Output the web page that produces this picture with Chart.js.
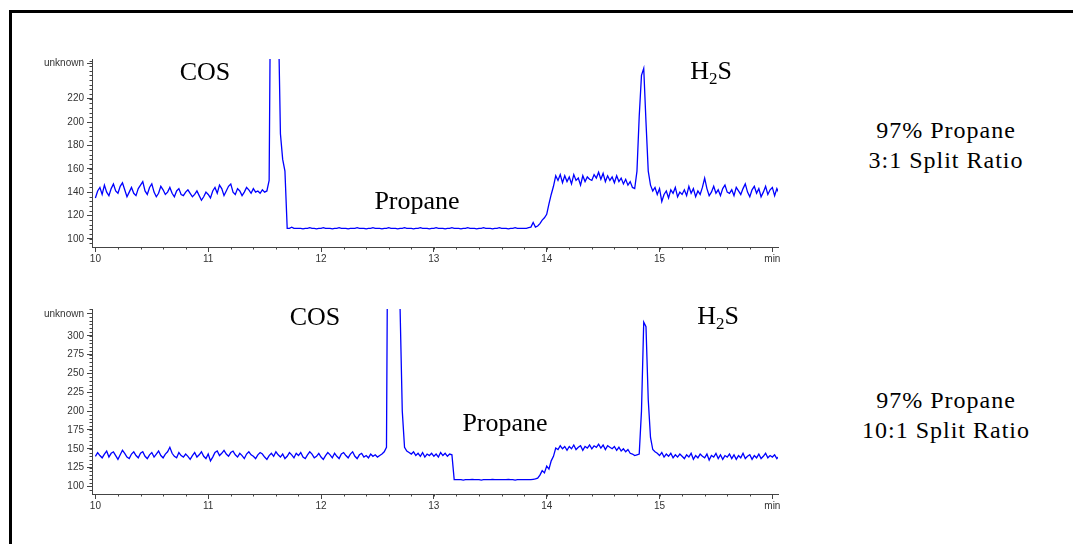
<!DOCTYPE html>
<html>
<head>
<meta charset="utf-8">
<script src="https://cdn.jsdelivr.net/npm/chart.js@4.4.1/dist/chart.umd.min.js"></script>
<style>
    html, body { margin: 0; padding: 0; background: #fff; }
    body { width: 1073px; height: 544px; position: relative; overflow: hidden; }
    .frame {
        position: absolute; left: 9px; top: 10px; right: -10px; bottom: -10px;
        border-left: 3px solid #000; border-top: 3px solid #000;
    }
    canvas { position: absolute; left: 0; }
    .lbl {
        position: absolute; transform: translate(-50%, -50%);
        font-family: "Liberation Serif", "Times New Roman", serif;
        font-size: 26px; line-height: 1; color: #000; white-space: nowrap;
    }
    .lbl sub { font-size: 17px; vertical-align: -5px; line-height: 0; }
    .note { font-size: 24px; letter-spacing: 1px; text-align: center; line-height: 30px; }
</style>
</head>
<body>
<div class="frame"></div>
<canvas id="chart3" width="800" height="280" style="top:0"></canvas>
<canvas id="chart10" width="800" height="264" style="top:280px"></canvas>

<div class="lbl" style="left:205px; top:72px">COS</div>
<div class="lbl" style="left:711px; top:71px">H<sub>2</sub>S</div>
<div class="lbl" style="left:417px; top:201px">Propane</div>
<div class="lbl note" style="left:946px; top:145px">97% Propane<br>3:1 Split Ratio</div>

<div class="lbl" style="left:315px; top:317px">COS</div>
<div class="lbl" style="left:718px; top:316px">H<sub>2</sub>S</div>
<div class="lbl" style="left:505px; top:423px">Propane</div>
<div class="lbl note" style="left:946px; top:415px">97% Propane<br>10:1 Split Ratio</div>

<script>
// detector sampled every 0.02 min starting at 10.00 min
const sampleStart = 10.0;
const sampleStep = 0.02;

// 97% propane, 3:1 split
const split3Signal = [
    135,141,144,138,146,140,137,143,147,141,
    139,145,148,142,136,140,144,139,137,143,
    146,149,141,138,144,147,140,136,139,145,
    142,138,140,144,139,136,141,143,138,137,
    140,142,139,136,138,141,137,133,136,140,
    138,135,141,144,139,146,143,137,141,145,
    147,140,138,143,141,137,140,144,142,139,
    143,140,141,139,142,140,141,150,420,520,
    480,300,190,168,158,109,109,110,109,109,
    109,109,108.5,109,109,109.5,109,109,108.5,109,
    109,109.5,109,109,109,108.5,109,109,109.5,109,
    109,109,108.5,109,109,109,109.5,109,109,109,
    108.5,109,109,109.5,109,109,109,108.5,109,109,
    109.5,109,109,109,108.5,109,109,109.5,109,109,
    109,108.5,109,109,109.5,109,109,109,108.5,109,
    109,109.5,109,109,109,108.5,109,109,109.5,109,
    109,109,108.5,109,109,109.5,109,109,109,108.5,
    109,109,109.5,109,109,109,108.5,109,109,109.5,
    109,109,109,108.5,109,109,109.5,109,109,109,
    109,109,109.5,110,114,110,111,113,116,118,
    121,130,138,145,154,150,155,148,154,149,
    153,147,155,150,152,146,154,149,153,151,
    150,155,152,157,151,156,149,154,150,153,
    148,154,149,152,147,151,146,149,144,143,
    158,205,240,246,200,158,146,141,144,138,
    143,132,138,141,135,142,139,144,136,140,
    138,142,137,145,139,143,136,141,138,144,
    152,143,137,140,145,139,142,137,143,146,
    140,139,142,137,144,141,138,143,147,140,
    136,142,145,139,143,136,140,145,138,142,
    144,137,143,139
];

// 97% propane, 10:1 split
const split10Signal = [
    140,145,141,138,143,147,139,144,146,141,
    136,142,148,144,139,137,143,146,141,138,
    144,146,140,137,142,145,139,143,147,141,
    138,143,146,152,144,140,138,145,141,139,
    143,140,136,141,145,139,142,146,140,137,
    143,134,139,145,147,141,144,148,143,140,
    145,147,142,139,144,141,137,143,146,142,
    140,137,142,145,143,139,136,141,144,140,
    146,142,139,143,137,140,145,142,138,144,
    141,145,139,137,142,146,143,138,140,144,
    139,136,141,145,142,138,144,140,137,143,
    145,141,138,143,146,140,137,142,144,139,
    141,138,143,140,142,139,141,143,146,152,
    700,900,900,800,600,340,200,152,147,145,
    143,146,141,144,140,145,139,143,141,144,
    140,143,139,145,141,144,140,143,142,109,
    109,109,109,108.5,109,109,109,109.5,109,109,
    109,108.5,109,109,109,109,109.5,109,109,109,
    109,109,109,109.5,109,109,108.5,109,109,109,
    109,109,109,109,109.5,110,111,115,121,118,
    127,123,134,140,151,149,154,150,153,148,
    153,150,155,149,152,154,148,153,151,155,
    150,154,152,156,151,155,149,154,152,150,
    153,148,152,147,150,146,149,144,143,141,
    142,143,200,318,312,215,165,149,146,144,
    141,145,139,143,140,144,138,142,139,143,
    140,137,142,139,144,136,141,138,143,140,
    138,143,135,141,139,144,137,142,136,141,
    139,143,137,142,136,141,138,144,137,140,
    142,136,141,138,143,137,140,144,138,141,
    139,142,137,140
];

// axes
const timeTicks = [10, 11, 12, 13, 14, 15, 16];
const timeLabels = ['10', '11', '12', '13', '14', '15', 'min'];
const timeMin = 9.97;
const timeMax = 16.05;
const timeMinorStep = 0.2;

const split3YTicks = [100, 120, 140, 160, 180, 200, 220];
const split10YTicks = [100, 125, 150, 175, 200, 225, 250, 275, 300];
const unitLabel = 'unknown';

function rangeOf(from, to, step) {
    const out = [];
    for (let v = from; v <= to + 1e-9; v += step) out.push(+v.toFixed(4));
    return out;
}

const minorTicks = {
    id: 'minorTicks',
    afterDraw(chart, args, opts) {
        const { ctx, scales: { x, y } } = chart;
        ctx.save();
        ctx.strokeStyle = '#444';
        ctx.lineWidth = 1;
        ctx.beginPath();
        opts.xValues.forEach(v => {
            const px = Math.round(x.getPixelForValue(v)) + 0.5;
            ctx.moveTo(px, x.top);
            ctx.lineTo(px, x.top + 2.5);
        });
        opts.yValues.forEach(v => {
            const py = Math.round(y.getPixelForValue(v)) + 0.5;
            ctx.moveTo(y.right - 2.5, py);
            ctx.lineTo(y.right, py);
        });
        ctx.stroke();
        ctx.restore();
    }
};

function makeChart(id, signal, yMin, yMax, yTicks, unitValue, yMinor, padTop, xAxisHeight) {
    const points = signal.map((v, i) => ({ x: sampleStart + i * sampleStep, y: v }));
    const tickFont = { family: '"Liberation Sans", Arial, sans-serif', size: 10 };

    return new Chart(document.getElementById(id), {
        type: 'line',
        data: {
            datasets: [{
                data: points,
                borderColor: '#0000ff',
                borderWidth: 1.3,
                pointRadius: 0,
                tension: 0,
                fill: false
            }]
        },
        options: {
            responsive: false,
            animation: false,
            devicePixelRatio: 1,
            layout: { padding: { top: padTop, right: 22, bottom: 0, left: 0 } },
            plugins: {
                legend: { display: false },
                tooltip: { enabled: false },
                minorTicks: { xValues: rangeOf(10, 16, timeMinorStep), yValues: yMinor }
            },
            scales: {
                x: {
                    type: 'linear',
                    min: timeMin,
                    max: timeMax,
                    afterBuildTicks: scale => { scale.ticks = timeTicks.map(v => ({ value: v })); },
                    afterFit: scale => { scale.height = xAxisHeight; },
                    ticks: {
                        autoSkip: false,
                        maxRotation: 0,
                        padding: 1,
                        color: '#333',
                        font: tickFont,
                        callback: v => timeLabels[timeTicks.indexOf(v)]
                    },
                    grid: { drawOnChartArea: false, drawTicks: true, tickLength: 5, color: '#444' },
                    border: { display: true, color: '#444', width: 1 }
                },
                y: {
                    type: 'linear',
                    min: yMin,
                    max: yMax,
                    afterBuildTicks: scale => {
                        scale.ticks = yTicks.concat([unitValue]).map(v => ({ value: v }));
                    },
                    afterFit: scale => { scale.width = 92; },
                    ticks: {
                        autoSkip: false,
                        padding: 3,
                        color: '#333',
                        font: tickFont,
                        callback: v => v === unitValue ? unitLabel : String(v)
                    },
                    grid: { drawOnChartArea: false, drawTicks: true, tickLength: 5, color: '#444' },
                    border: { display: true, color: '#444', width: 1 }
                }
            }
        },
        plugins: [minorTicks]
    });
}

makeChart('chart3', split3Signal, 93, 254, split3YTicks, 250, rangeOf(96, 252, 4), 59, 33);
makeChart('chart10', split10Signal, 90, 335.5, split10YTicks, 329, rangeOf(95, 335, 5), 29, 50);
</script>
</body>
</html>
